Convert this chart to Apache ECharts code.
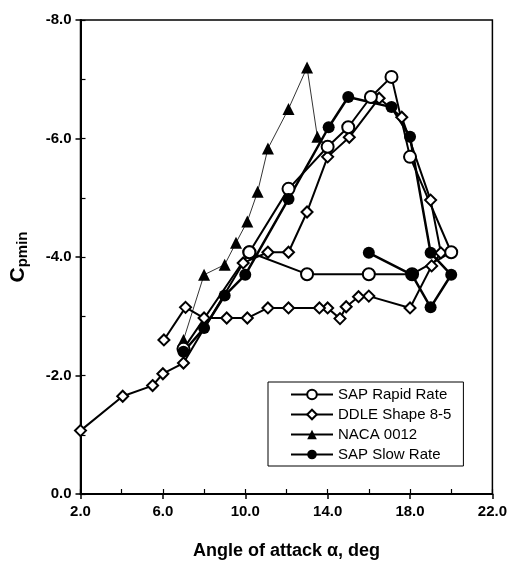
<!DOCTYPE html>
<html>
<head>
<meta charset="utf-8">
<script src="https://cdn.jsdelivr.net/npm/echarts@6/dist/echarts.min.js"></script>
<style>
  html, body { margin: 0; padding: 0; background: #fff; }
  #chart { width: 510px; height: 567px; }
</style>
</head>
<body>
<div id="chart"></div>
<script>
// data (angle of attack, deg / Cpmin)
const rapidX = [7.0, 10.2, 12.1, 14.0, 15.0, 16.1, 17.1, 18.0, 20.0, 18.1, 16.0, 13.0, 10.2];
const rapidY = [-2.45, -4.08, -5.15, -5.86, -6.19, -6.70, -7.04, -5.69, -4.08, -3.71, -3.71, -3.71, -4.08];

const ddleX = [2.0, 4.05, 5.5, 6.0, 7.0, 9.9, 11.1, 12.1, 13.0, 14.0, 15.05, 16.5, 17.6, 19.0, 19.5,
  19.05, 18.0, 16.0, 15.5, 14.9, 14.6, 14.0, 13.6, 12.1, 11.1, 10.1, 9.1, 8.0, 7.1, 6.05];
const ddleY = [-1.07, -1.65, -1.83, -2.03, -2.21, -3.90, -4.08, -4.08, -4.76, -5.69, -6.02, -6.68, -6.36, -4.96, -4.07,
  -3.85, -3.14, -3.34, -3.33, -3.16, -2.96, -3.14, -3.14, -3.14, -3.14, -2.97, -2.97, -2.97, -3.15, -2.60];

const nacaX = [7.0, 8.0, 9.0, 9.55, 10.1, 10.6, 11.1, 12.1, 13.0, 13.5];
const nacaY = [-2.60, -3.70, -3.87, -4.24, -4.60, -5.10, -5.83, -6.50, -7.20, -6.03];

const slowX = [7.0, 8.0, 9.0, 10.0, 12.1, 14.05, 15.0, 17.1, 18.0, 19.0, 20.0, 19.0, 18.1, 16.0];
const slowY = [-2.40, -2.80, -3.35, -3.70, -4.98, -6.19, -6.70, -6.53, -6.03, -4.07, -3.70, -3.15, -3.70, -4.07];

const xTicks = [2, 22, 4];   // min, max, interval
const yTicks = [-8, 0, 2];

const zip = (xs, ys) => xs.map((x, i) => [x, ys[i]]);

const font = "Liberation Sans, Arial, sans-serif";
const chart = echarts.init(document.getElementById("chart"));

chart.setOption({
  animation: false,
  backgroundColor: "#fff",
  grid: {
    left: 79, right: 16, top: 20, bottom: 73,
    show: true, borderColor: "#000", borderWidth: 1.5
  },
  legend: {
    left: 268, top: 382,
    orient: "vertical",
    borderColor: "#000", borderWidth: 1,
    padding: [5, 12, 4, 22],
    itemWidth: 42, itemHeight: 12, itemGap: 5,
    textStyle: { fontFamily: font, fontSize: 15, color: "#000" },
    data: ["SAP Rapid Rate", "DDLE Shape 8-5", "NACA 0012", "SAP Slow Rate"]
  },
  xAxis: [
    {
      type: "value",
      min: xTicks[0], max: xTicks[1], interval: xTicks[2],
      name: "Angle of attack \u03b1, deg",
      nameLocation: "middle", nameGap: 48,
      nameTextStyle: { fontFamily: font, fontSize: 18, fontWeight: "bold", color: "#000" },
      axisLine: { lineStyle: { color: "#000", width: 2 } },
      axisTick: { length: 5, lineStyle: { color: "#000", width: 1.5 } },
      axisLabel: {
        margin: 10, fontFamily: font, fontSize: 15, fontWeight: "bold", color: "#000",
        formatter: v => v.toFixed(1)
      },
      splitLine: { show: false }
    },
    {
      type: "value", position: "bottom",
      min: xTicks[0], max: xTicks[1], interval: xTicks[2] / 2,
      axisLine: { show: false },
      axisTick: { inside: true, length: 5, lineStyle: { color: "#000", width: 1.2 } },
      axisLabel: { show: false },
      splitLine: { show: false }
    }
  ],
  yAxis: [
    {
      type: "value", inverse: true,
      min: yTicks[0], max: yTicks[1], interval: yTicks[2],
      name: "{c|C}{s|pmin}",
      nameLocation: "middle", nameRotate: 90, nameGap: 50,
      nameTextStyle: {
        rich: {
          c: { fontFamily: font, fontSize: 21, fontWeight: "bold", color: "#000" },
          s: { fontFamily: font, fontSize: 15, fontWeight: "bold", color: "#000", padding: [9, 0, 0, 0] }
        }
      },
      axisLine: { lineStyle: { color: "#000", width: 2 } },
      axisTick: { length: 5, lineStyle: { color: "#000", width: 1.5 } },
      axisLabel: {
        margin: 9, fontFamily: font, fontSize: 15, fontWeight: "bold", color: "#000",
        formatter: v => v.toFixed(1)
      },
      splitLine: { show: false }
    },
    {
      type: "value", inverse: true, position: "left",
      min: yTicks[0], max: yTicks[1], interval: yTicks[2] / 2,
      axisLine: { show: false },
      axisTick: { inside: true, length: 5, lineStyle: { color: "#000", width: 1.2 } },
      axisLabel: { show: false },
      splitLine: { show: false }
    }
  ],
  series: [
    {
      name: "NACA 0012", type: "line",
      data: zip(nacaX, nacaY),
      symbol: "triangle", symbolSize: 12,
      lineStyle: { color: "#000", width: 0.8 },
      itemStyle: { color: "#000" }
    },
    {
      name: "DDLE Shape 8-5", type: "line",
      data: zip(ddleX, ddleY),
      symbol: "emptyDiamond", symbolSize: 11,
      lineStyle: { color: "#000", width: 2 },
      itemStyle: { color: "#000", borderWidth: 2 }
    },
    {
      name: "SAP Rapid Rate", type: "line",
      data: zip(rapidX, rapidY),
      symbol: "emptyCircle", symbolSize: 12,
      lineStyle: { color: "#000", width: 2 },
      itemStyle: { color: "#000", borderWidth: 2 }
    },
    {
      name: "SAP Slow Rate", type: "line",
      data: zip(slowX, slowY),
      symbol: "circle", symbolSize: 12,
      lineStyle: { color: "#000", width: 2.5 },
      itemStyle: { color: "#000" }
    }
  ]
});
</script>
</body>
</html>
